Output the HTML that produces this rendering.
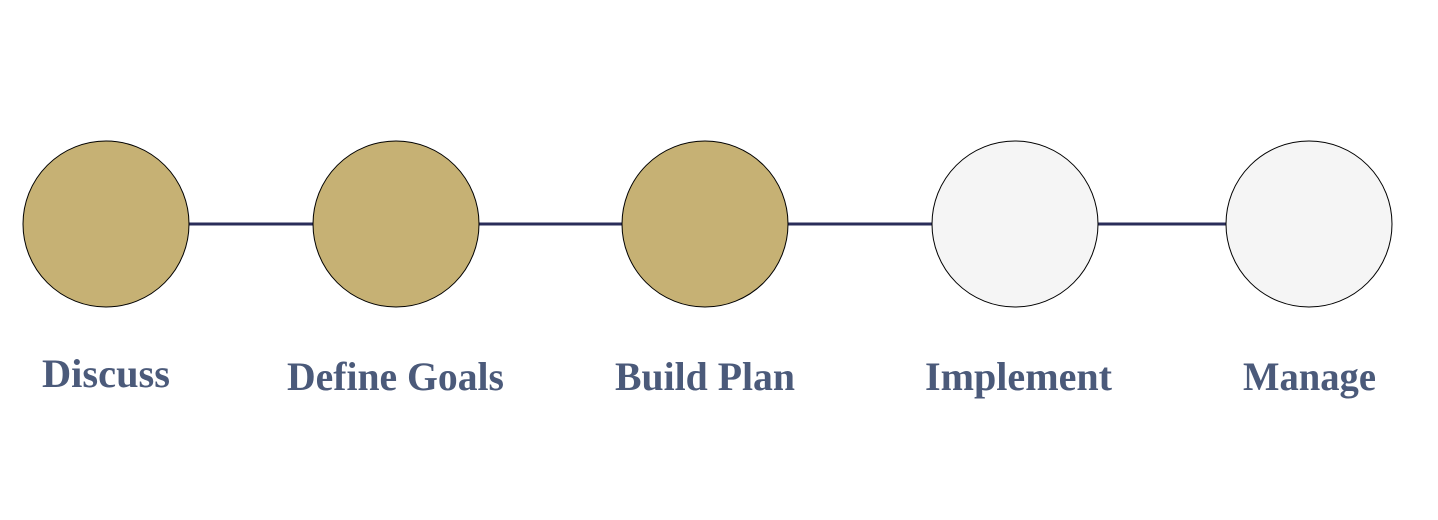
<!DOCTYPE html>
<html><head><style>html,body{margin:0;padding:0;background:#fff;}</style></head>
<body>
<svg width="1438" height="515" xmlns="http://www.w3.org/2000/svg">
<rect width="1438" height="515" fill="#fff"/>
<line x1="106" y1="224" x2="1309" y2="224" stroke="#2a2d5a" stroke-width="3"/>
<g stroke="#000" stroke-width="1">
<circle cx="106" cy="224" r="83" fill="#c6b174"/>
<circle cx="396" cy="224" r="83" fill="#c6b174"/>
<circle cx="705" cy="224" r="83" fill="#c6b174"/>
<circle cx="1015" cy="224" r="83" fill="#f5f5f5"/>
<circle cx="1309" cy="224" r="83" fill="#f5f5f5"/>
</g>
<g font-family="Liberation Serif, serif" font-weight="bold" font-size="40" fill="#4b5a7a">
<text x="42" y="387" textLength="128" lengthAdjust="spacingAndGlyphs">Discuss</text>
<text x="287" y="390" textLength="217" lengthAdjust="spacingAndGlyphs">Define Goals</text>
<text x="615" y="390" textLength="180" lengthAdjust="spacingAndGlyphs">Build Plan</text>
<text x="925" y="390" textLength="187" lengthAdjust="spacingAndGlyphs">Implement</text>
<text x="1243" y="390" textLength="133" lengthAdjust="spacingAndGlyphs">Manage</text>
</g>
</svg>
</body></html>
